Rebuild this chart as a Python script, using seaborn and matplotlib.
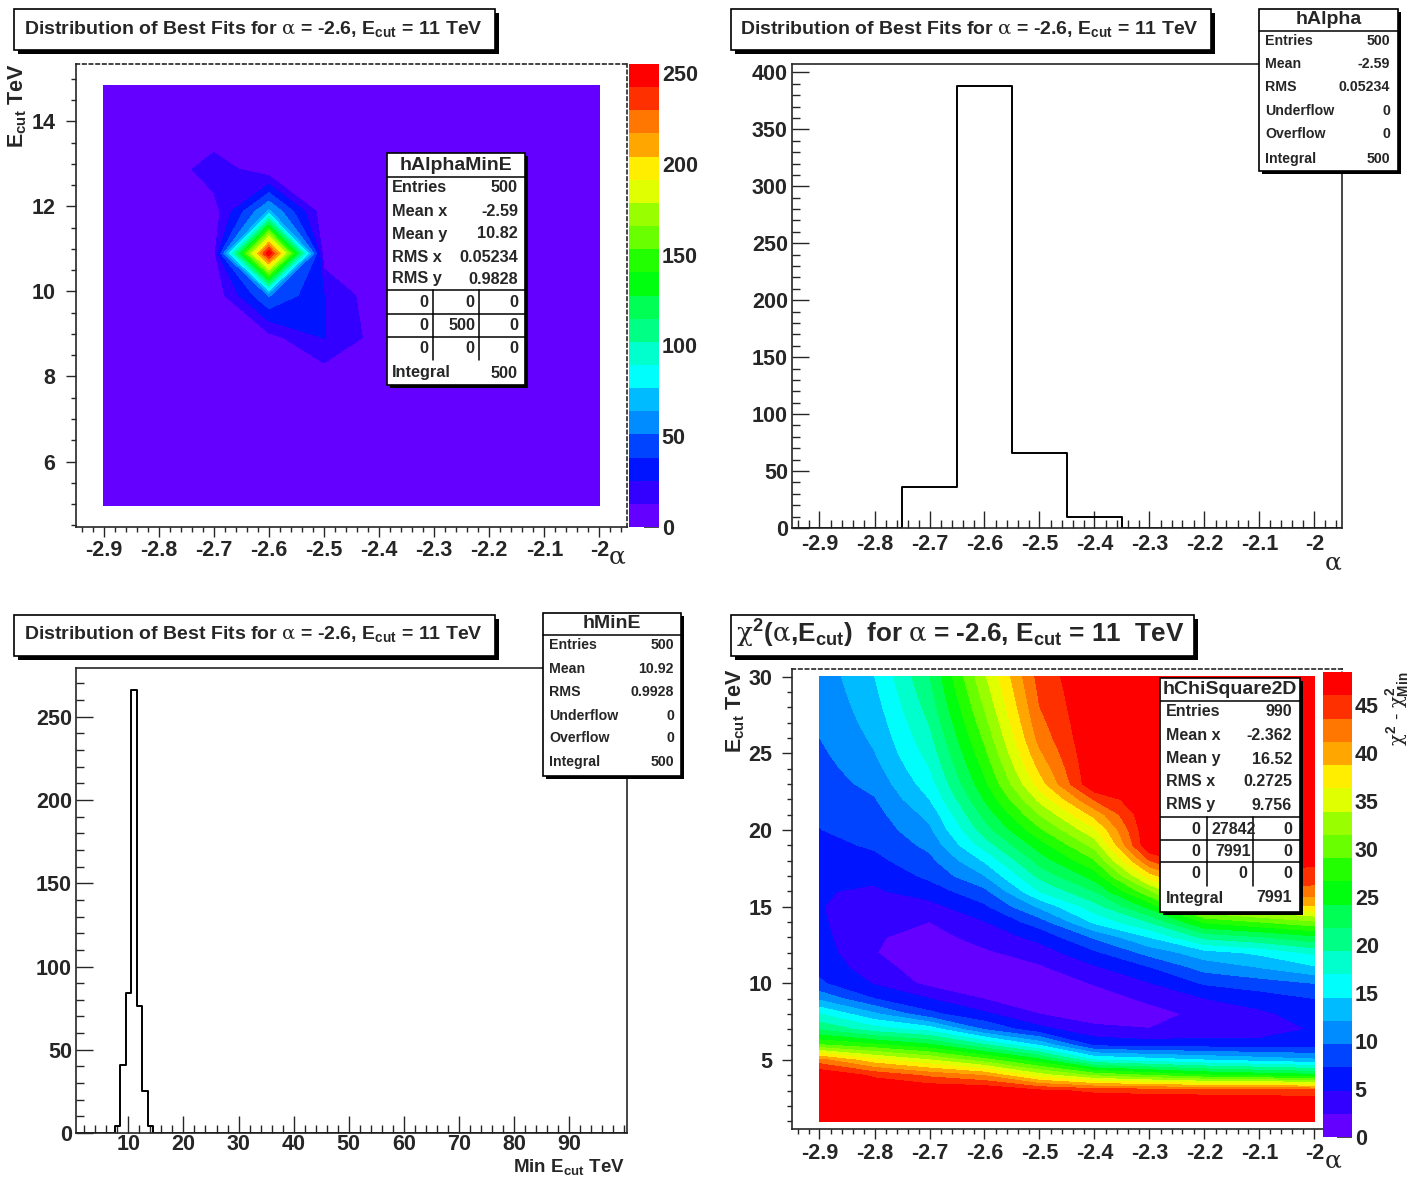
import numpy as np
import pandas as pd
import matplotlib
matplotlib.use('Agg')
import matplotlib.pyplot as plt
import seaborn as sns
import colorsys
from matplotlib.patches import Rectangle
from matplotlib.lines import Line2D
from matplotlib.ticker import MultipleLocator, FuncFormatter

# ---------------- data ----------------
alpha_centers = [-2.9, -2.8, -2.7, -2.6, -2.5, -2.4, -2.3, -2.2, -2.1, -2.0]

# hAlphaMinE : rows = Ecut bin centres, columns = alpha_centers
ecut2d_centers = [4.955, 5.945, 6.935, 7.925, 8.915, 9.905, 10.895, 11.885, 12.875, 13.865, 14.855]
alpha_mine_counts = [
    [0, 0, 0, 0, 0, 0, 0, 0, 0, 0],
    [0, 0, 0, 0, 0, 0, 0, 0, 0, 0],
    [0, 0, 0, 0, 0, 0, 0, 0, 0, 0],
    [0, 0, 0, 0, 4, 0, 0, 0, 0, 0],
    [0, 0, 0, 8, 26, 7, 0, 0, 0, 0],
    [0, 0, 3, 52, 26, 3, 0, 0, 0, 0],
    [0, 0, 6, 255, 5, 0, 0, 0, 0, 0],
    [0, 0, 6, 66, 4, 0, 0, 0, 0, 0],
    [0, 0, 21, 3, 1, 0, 0, 0, 0, 0],
    [0, 0, 0, 4, 0, 0, 0, 0, 0, 0],
    [0, 0, 0, 0, 0, 0, 0, 0, 0, 0],
]

# hAlpha
alpha_hist_centers = [-2.7, -2.6, -2.5, -2.4]
alpha_hist_counts = [36, 388, 66, 10]

# hMinE
mine_centers = [8, 9, 10, 11, 12, 13, 14]
mine_counts = [4, 41, 84, 266, 76, 25, 4]

# hChiSquare2D : rows = Ecut 1..30, columns = alpha_centers
chi_ecut = list(range(1, 31))
chi2_rows = [
    [48.4, 48.4, 48.4, 48.4, 48.4, 48.4, 48.4, 48.4, 48.4, 48.4],
    [48.4, 48.4, 48.4, 48.4, 48.4, 48.4, 48.4, 48.4, 48.4, 48.4],
    [48.4, 48.4, 48.4, 48.4, 46.5, 45.5, 45.2, 45.0, 44.8, 44.5],
    [48.4, 45.5, 43.0, 41.0, 35.0, 31.0, 29.0, 27.0, 26.0, 25.0],
    [42.0, 37.0, 34.0, 30.0, 25.0, 17.0, 15.7, 14.5, 13.5, 12.5],
    [29.0, 27.0, 24.5, 19.5, 14.0, 6.5, 6.0, 6.0, 5.8, 6.0],
    [21.5, 18.0, 16.0, 9.5, 5.6, 3.2, 2.5, 3.3, 3.5, 5.1],
    [17.0, 12.5, 7.9, 5.3, 2.4, 0.8, 1.3, 3.2, 4.3, 6.0],
    [11.5, 7.25, 4.85, 2.3, 0.0, 1.0, 3.0, 4.8, 6.0, 7.25],
    [7.6, 4.6, 1.7, 0.5, 0.6, 2.6, 4.7, 7.5, 8.5, 9.7],
    [6.7, 3.3, 1.2, 0.8, 2.0, 4.4, 7.0, 10.5, 12.0, 14.0],
    [6.0, 2.5, 1.0, 2.0, 3.6, 6.8, 10.5, 13.5, 15.0, 17.5],
    [5.5, 2.7, 1.4, 3.4, 5.5, 10.0, 14.5, 20.0, 21.5, 23.5],
    [5.15, 3.1, 2.4, 4.7, 8.5, 15.0, 19.5, 27.0, 29.0, 31.0],
    [4.95, 3.7, 4.0, 6.8, 12.5, 18.3, 25.0, 35.0, 37.0, 38.5],
    [5.0, 4.5, 6.0, 9.0, 17.0, 21.8, 31.0, 41.0, 43.0, 42.5],
    [5.3, 5.3, 7.8, 12.0, 20.0, 25.3, 37.5, 44.8, 45.2, 45.0],
    [5.9, 6.6, 9.0, 14.8, 22.8, 28.8, 43.5, 48.4, 48.4, 46.5],
    [6.5, 7.6, 10.3, 18.0, 25.4, 32.3, 48.4, 48.4, 48.4, 48.4],
    [7.2, 8.2, 11.6, 20.6, 28.5, 35.8, 48.4, 48.4, 48.4, 48.4],
    [7.6, 8.8, 12.8, 22.5, 31.5, 39.5, 48.4, 48.4, 48.4, 48.4],
    [8.0, 9.5, 14.5, 24.4, 34.5, 43.8, 48.4, 48.4, 48.4, 48.4],
    [8.4, 10.4, 15.8, 26.0, 37.4, 48.4, 48.4, 48.4, 48.4, 48.4],
    [8.8, 11.2, 16.9, 27.2, 39.2, 48.4, 48.4, 48.4, 48.4, 48.4],
    [9.2, 12.0, 17.8, 28.4, 40.7, 48.4, 48.4, 48.4, 48.4, 48.4],
    [9.66, 12.5, 18.7, 29.5, 42.0, 48.4, 48.4, 48.4, 48.4, 48.4],
    [9.9, 13.0, 19.5, 30.6, 42.8, 48.4, 48.4, 48.4, 48.4, 48.4],
    [10.1, 13.5, 20.3, 31.6, 43.5, 48.4, 48.4, 48.4, 48.4, 48.4],
    [10.3, 14.0, 21.0, 32.6, 44.0, 48.4, 48.4, 48.4, 48.4, 48.4],
    [10.5, 14.5, 21.7, 33.5, 44.5, 48.4, 48.4, 48.4, 48.4, 48.4],
]

# ---------------- style ----------------
sns.set_style('ticks')
plt.rcParams['font.family'] = ['Liberation Sans', 'DejaVu Sans']
plt.rcParams['font.weight'] = 'bold'
plt.rcParams['mathtext.fontset'] = 'custom'
plt.rcParams['mathtext.rm'] = 'Liberation Sans:bold'
plt.rcParams['mathtext.bf'] = 'Liberation Sans:bold'
plt.rcParams['mathtext.sf'] = 'Liberation Sans:bold'
plt.rcParams['mathtext.it'] = 'DejaVu Serif:weight=normal'
plt.rcParams['axes.linewidth'] = 1.2


def root_palette(n_levels=20):
    cols = []
    for k in range(n_levels):
        idx = int((k + 0.99) * 50 / n_levels)
        hue = 280 - (idx + 1) * 5.6
        cols.append(colorsys.hls_to_rgb(hue / 360.0, 0.5, 1.0))
    return cols


PAL = root_palette(20)

W, H = 1409, 1177
fig = plt.figure(figsize=(W / 100, H / 100), dpi=100)
fig.patch.set_facecolor('white')


def axes_px(x0, y0, x1, y1):
    return fig.add_axes([x0 / W, 1 - y1 / H, (x1 - x0) / W, (y1 - y0) / H])


def rect_px(x0, y0, x1, y1, fc, ec, lw, z):
    fig.add_artist(Rectangle((x0 / W, 1 - y1 / H), (x1 - x0) / W, (y1 - y0) / H,
                             transform=fig.transFigure, facecolor=fc, edgecolor=ec,
                             linewidth=lw, zorder=z))


def line_px(x0, y0, x1, y1, lw=1.0, z=12):
    fig.add_artist(Line2D([x0 / W, x1 / W], [1 - y0 / H, 1 - y1 / H],
                          transform=fig.transFigure, color='black', lw=lw, zorder=z))


def text_px(x, y, s, **kw):
    kw.setdefault('zorder', 13)
    fig.text(x / W, 1 - y / H, s, **kw)


fmt = FuncFormatter(lambda v, p: f"{v:g}")


def title_box(x0, y0, x1, y1, s, tx, ty, fs):
    rect_px(x0 + 4, y0 + 4, x1 + 4, y1 + 4, 'black', 'black', 0, 10)
    rect_px(x0, y0, x1, y1, 'white', 'black', 1.2, 11)
    text_px(tx, ty, s, fontsize=fs, ha='left', va='center')


def stats_box(x0, y0, x1, y1, title, ty, tfs, seps, rows, rfs, lab_x, val_x,
              table=None, vlines=None):
    rect_px(x0 + 3, y0 + 3, x1 + 3, y1 + 3, 'black', 'black', 0, 10)
    rect_px(x0, y0, x1, y1, 'white', 'black', 1.2, 11)
    text_px((x0 + x1) / 2, ty, title, fontsize=tfs, ha='center', va='center')
    for y in seps:
        line_px(x0, y, x1, y, lw=1.1)
    for lab, val, y in rows:
        text_px(lab_x, y, lab, fontsize=rfs, ha='left', va='center')
        text_px(val_x, y, val, fontsize=rfs, ha='right', va='center')
    if table:
        for y, vals, xs in table:
            for v, x in zip(vals, xs):
                text_px(x, y, v, fontsize=rfs, ha='right', va='center')
    if vlines:
        for x, ya, yb in vlines:
            line_px(x, ya, x, yb, lw=1.1)


ecut_label = r"E$_{\mathrm{cut}}$ TeV"
title_txt = r"Distribution of Best Fits for $\alpha$ = -2.6, E$_{\mathrm{cut}}$ = 11 TeV"
TITLE_FS = 14.0

# ---------------- panel 1 : hAlphaMinE ----------------
ax1 = axes_px(76, 64, 627, 527)
Z1 = np.array(alpha_mine_counts, dtype=float)
zmax1 = Z1.max()
cs1 = ax1.contourf(alpha_centers, ecut2d_centers, Z1,
                   levels=np.linspace(0, zmax1, 21), colors=PAL)
ax1.set_xlim(-2.95, -1.95)
ax1.set_ylim(4.46, 15.35)
ax1.xaxis.set_major_locator(MultipleLocator(0.1))
ax1.xaxis.set_minor_locator(MultipleLocator(0.02))
ax1.yaxis.set_major_locator(MultipleLocator(2))
ax1.yaxis.set_minor_locator(MultipleLocator(0.5))
ax1.xaxis.set_major_formatter(fmt)
ax1.yaxis.set_major_formatter(fmt)
ax1.tick_params(which='both', direction='out', top=False, right=False, width=1.0)
ax1.tick_params(which='major', length=7, labelsize=15.5)
ax1.tick_params(which='minor', length=3.5)
ax1.tick_params(axis='y', which='major', pad=8)
ax1.tick_params(axis='x', which='major', pad=2)
for s in ('top', 'right'):
    ax1.spines[s].set_linestyle((0, (2, 2)))

cax1 = axes_px(629, 64, 659, 527)
cb1 = fig.colorbar(cs1, cax=cax1, ticks=list(range(0, 251, 50)))
cb1.outline.set_visible(False)
cax1.tick_params(direction='in', length=11, width=1.2, labelsize=15.5, pad=2)
cax1.yaxis.set_major_formatter(fmt)

title_box(14, 9, 495, 50, title_txt, 24, 29, TITLE_FS)
text_px(18, 63, ecut_label, fontsize=15.5, rotation=90, ha='center', va='top')
text_px(617, 556, r"$\alpha$", fontsize=18, ha='center', va='center')
stats_box(387, 153, 525, 385, 'hAlphaMinE', 165, 14, [177, 290, 314, 337],
          [('Entries', '500', 188), ('Mean x', '-2.59', 211), ('Mean y', '10.82', 234),
           ('RMS x', '0.05234', 257), ('RMS y', '0.9828', 279), ('Integral', '500', 373)],
          11.7, 392, 518,
          table=[(302, ['0', '0', '0'], [428, 474, 518]),
                 (326, ['0', '500', '0'], [428, 476, 518]),
                 (349, ['0', '0', '0'], [428, 474, 518])],
          vlines=[(433, 290, 360), (479, 290, 360)])

# ---------------- panel 2 : hAlpha ----------------
ax2 = axes_px(792, 64, 1342, 528)
alpha_obs = np.repeat(alpha_hist_centers, alpha_hist_counts)
alpha_bins = [round(-2.95 + 0.1 * i, 3) for i in range(11)]
sns.histplot(x=alpha_obs, bins=alpha_bins, element='step', fill=False,
             color='black', linewidth=1.4, ax=ax2)
ax2.set_xlim(-2.95, -1.95)
ax2.set_ylim(0, 1.05 * max(alpha_hist_counts))
ax2.set_xlabel('')
ax2.set_ylabel('')
ax2.xaxis.set_major_locator(MultipleLocator(0.1))
ax2.xaxis.set_minor_locator(MultipleLocator(0.02))
ax2.yaxis.set_major_locator(MultipleLocator(50))
ax2.yaxis.set_minor_locator(MultipleLocator(10))
ax2.xaxis.set_major_formatter(fmt)
ax2.tick_params(which='both', direction='in', top=False, right=False, width=1.0)
ax2.tick_params(which='major', length=12.5, labelsize=15.5)
ax2.tick_params(which='minor', length=6)
ax2.tick_params(axis='y', which='major', pad=3)
ax2.tick_params(axis='x', which='major', pad=4.5)
title_box(731, 9, 1211, 50, title_txt, 740, 29, TITLE_FS)
text_px(1333, 562, r"$\alpha$", fontsize=18, ha='center', va='center')
stats_box(1259, 9, 1398, 171, 'hAlpha', 20, 14, [31],
          [('Entries', '500', 41), ('Mean', '-2.59', 64), ('RMS', '0.05234', 87),
           ('Underflow', '0', 111), ('Overflow', '0', 134), ('Integral', '500', 159)],
          10.2, 1265, 1390)

# ---------------- panel 3 : hMinE ----------------
ax3 = axes_px(76, 668, 627, 1133)
mine_obs = np.repeat(mine_centers, mine_counts).astype(float)
mine_bins = [0.5 + i for i in range(101)]
sns.histplot(x=mine_obs, bins=mine_bins, element='step', fill=False,
             color='black', linewidth=1.4, ax=ax3)
ax3.set_xlim(0.5, 100.5)
ax3.set_ylim(0, 1.05 * max(mine_counts))
ax3.set_xlabel('')
ax3.set_ylabel('')
ax3.xaxis.set_minor_locator(MultipleLocator(2))
ax3.yaxis.set_major_locator(MultipleLocator(50))
ax3.yaxis.set_minor_locator(MultipleLocator(10))
ax3.set_xticks([10, 20, 30, 40, 50, 60, 70, 80, 90])
ax3.xaxis.set_major_formatter(fmt)
ax3.tick_params(which='both', direction='in', top=False, right=False, width=1.0)
ax3.tick_params(which='major', length=12, labelsize=15.5)
ax3.tick_params(which='minor', length=6)
ax3.tick_params(axis='y', which='major', pad=3)
ax3.tick_params(axis='x', which='major', pad=1)
title_box(14, 615, 495, 656, title_txt, 24, 634, TITLE_FS)
text_px(625, 1167, r"Min E$_{\mathrm{cut}}$ TeV", fontsize=13.5, ha='right', va='center')
stats_box(543, 613, 681, 776, 'hMinE', 623, 14, [635],
          [('Entries', '500', 645), ('Mean', '10.92', 669), ('RMS', '0.9928', 692),
           ('Underflow', '0', 716), ('Overflow', '0', 738), ('Integral', '500', 762)],
          10.2, 549, 674)

# ---------------- panel 4 : hChiSquare2D ----------------
ax4 = axes_px(792, 669, 1342, 1129)
Z4 = np.array(chi2_rows, dtype=float)
zmax4 = Z4.max()
cs4 = ax4.contourf(alpha_centers, chi_ecut, Z4,
                   levels=np.linspace(0, zmax4, 21), colors=PAL)
ax4.set_xlim(-2.95, -1.95)
ax4.set_ylim(0.5, 30.5)
ax4.xaxis.set_major_locator(MultipleLocator(0.1))
ax4.xaxis.set_minor_locator(MultipleLocator(0.02))
ax4.yaxis.set_major_locator(MultipleLocator(5))
ax4.yaxis.set_minor_locator(MultipleLocator(1))
ax4.xaxis.set_major_formatter(fmt)
ax4.yaxis.set_major_formatter(fmt)
ax4.tick_params(which='both', direction='out', top=False, right=False, width=1.0)
ax4.tick_params(which='major', length=7, labelsize=15.5)
ax4.tick_params(which='minor', length=3.5)
ax4.tick_params(axis='y', which='major', pad=7)
ax4.tick_params(axis='x', which='major', pad=3)
for s in ('top', 'right'):
    ax4.spines[s].set_linestyle((0, (2, 2)))

cax4 = axes_px(1323, 672, 1352, 1137)
cb4 = fig.colorbar(cs4, cax=cax4, ticks=list(range(0, 46, 5)))
cb4.outline.set_visible(False)
cax4.tick_params(direction='in', length=11, width=1.2, labelsize=15.5, pad=2)
cax4.yaxis.set_major_formatter(fmt)
cax4.set_zorder(5)

title_box(731, 615, 1194, 656,
          r"$\chi^{2}$($\alpha$,E$_{\mathrm{cut}}$)  for $\alpha$ = -2.6, E$_{\mathrm{cut}}$ = 11  TeV",
          736, 634, 18.8)
text_px(736, 668, ecut_label, fontsize=15.5, rotation=90, ha='center', va='top')
text_px(1333, 1160, r"$\alpha$", fontsize=18, ha='center', va='center')
text_px(1398, 672, r"$\chi^{2}$ - $\chi^{2}_{\mathrm{Min}}$", fontsize=14,
        rotation=90, ha='center', va='top', fontweight='normal')
stats_box(1160, 678, 1300, 912, 'hChiSquare2D', 690, 14, [701, 817, 840, 862],
          [('Entries', '990', 712), ('Mean x', '-2.362', 735), ('Mean y', '16.52', 759),
           ('RMS x', '0.2725', 782), ('RMS y', '9.756', 805), ('Integral', '7991', 898)],
          11.5, 1166, 1292,
          table=[(829, ['0', '27842', '0'], [1200, 1256, 1292]),
                 (852, ['0', '7991', '0'], [1200, 1251, 1292]),
                 (874, ['0', '0', '0'], [1200, 1247, 1292])],
          vlines=[(1207, 817, 886), (1253, 817, 886)])

fig.savefig('out.png', dpi=100)
